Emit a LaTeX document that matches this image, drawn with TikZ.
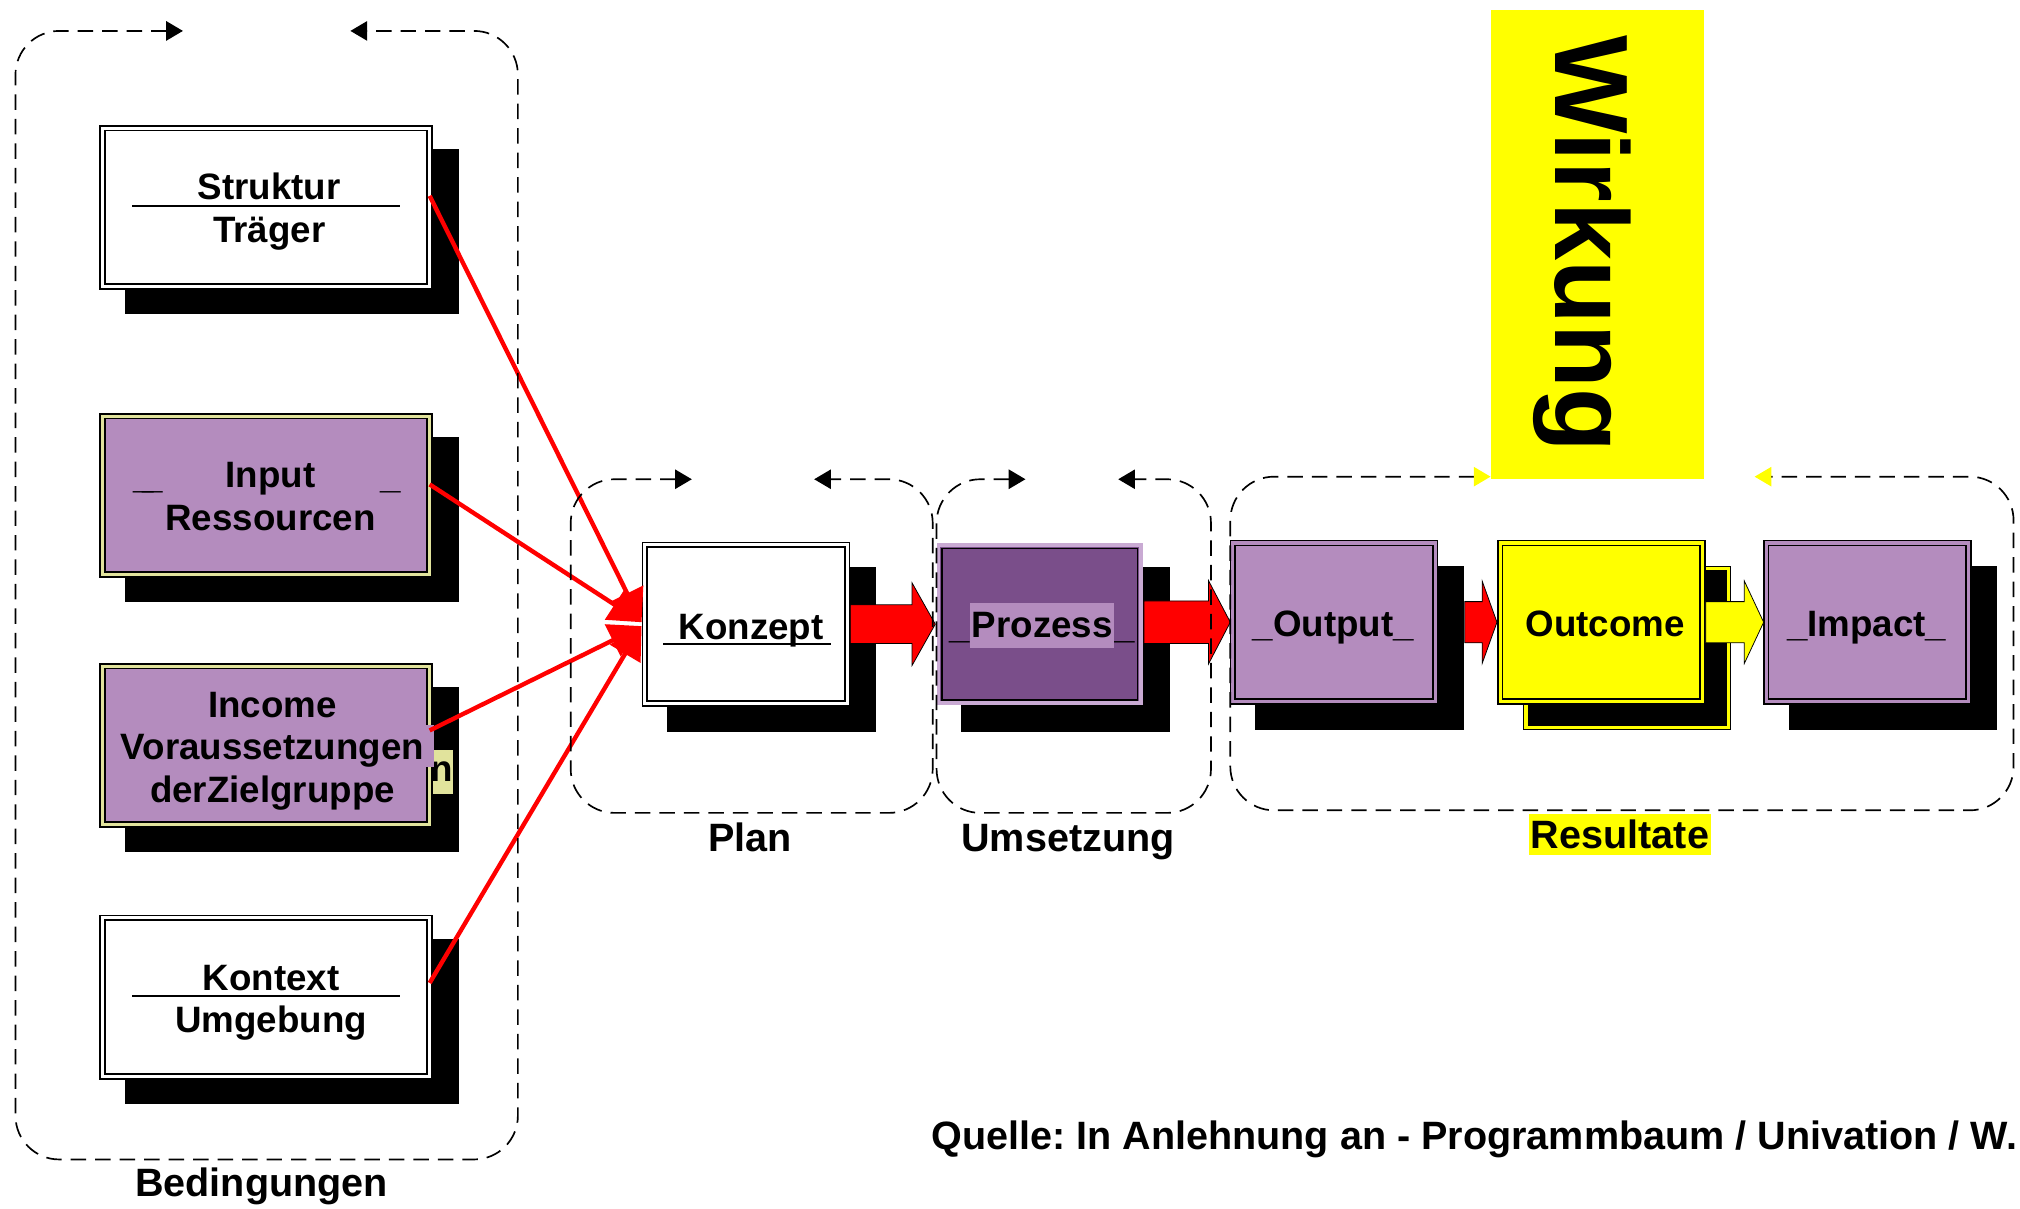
\documentclass[tikz,border=0pt]{standalone}
\usepackage{fontspec}
\setmainfont{Liberation Sans}
\usetikzlibrary{arrows.meta,calc}
\definecolor{lpurple}{HTML}{B48CBE}
\definecolor{dpurple}{HTML}{7A4E8A}
\definecolor{ringpurple}{HTML}{C9AAD3}
\definecolor{paleyellow}{HTML}{E1E39C}
\definecolor{yel}{HTML}{FFFF00}
\newcommand\bxfont{\fontsize{28.5}{33}\selectfont\bfseries}
\newcommand\lbfont{\fontsize{30.7}{34}\selectfont\bfseries}
\newcommand\wkfont{\fontsize{81}{90}\selectfont\bfseries}
\frenchspacing
\begin{document}
\begin{tikzpicture}[x=1pt,y=-1pt,
  every node/.style={inner sep=0pt, outer sep=0pt},
  dbl/.style={draw=black, line width=1.3pt, double=#1, double distance=2.4pt},
  leftsize/.style={minimum width=254pt, minimum height=123pt},
  rowsize/.style={minimum width=157pt, minimum height=123pt},
  leftshadow/.style={fill=black, minimum width=259pt, minimum height=128pt},
  rowshadow/.style={fill=black, minimum width=162pt, minimum height=128pt},
  txt/.style={font=\bxfont, align=center},
  lbl/.style={font=\lbfont},
  frame/.style={line width=1.3pt, dash pattern=on 12pt off 7pt, rounded corners=34pt},
  feed/.style={red, line width=3.4pt, -{Triangle[length=25pt,width=27pt]}},
  blockarrow/.style={fill=#1, draw=black, line width=0.6pt, line join=miter},
  rulel/.style={line width=1.2pt}
]
\useasboundingbox (0,0) rectangle (1568,938);

% Wirkung
\node[fill=yel, minimum width=166pt, minimum height=364pt] (wirkungbox) at (1240,190) {};
\node[font=\wkfont, rotate=-90] (wirkung) at (1228,189) {Wirkung};

% centres
\coordinate (cStr) at (206.5,161);
\coordinate (cInp) at (206.5,384.5);
\coordinate (cInc) at (206.5,578.5);
\coordinate (cKtx) at (206.5,774);
\coordinate (cKon) at (579,484.5);
\coordinate (cPro) at (807,484.5);
\coordinate (cOut) at (1035.5,483);
\coordinate (cOc) at (1243,483);
\coordinate (cImp) at (1449.5,483);

% shadows
\node[leftshadow] (sStr) at ($(cStr)+(20,19)$) {};
\node[leftshadow] (sInp) at ($(cInp)+(20,19)$) {};
\node[leftshadow] (sInc) at ($(cInc)+(20,19)$) {};
\node[leftshadow] (sKtx) at ($(cKtx)+(20,19)$) {};
\node[rowshadow] (sKon) at ($(cKon)+(20,20)$) {};
\node[rowshadow] (sPro) at ($(cPro)+(20,20)$) {};
\node[rowshadow] (sOut) at ($(cOut)+(20,20)$) {};
\node[dbl=yel, fill=black, rowsize] (sOc) at ($(cOc)+(20,20)$) {};
\node[rowshadow] (sImp) at ($(cImp)+(20,20)$) {};

% fragment behind Income box
\node[fill=paleyellow, minimum width=18pt, minimum height=34pt, font=\bxfont] (nfrag) at (343,599) {n};

% boxes
\node[dbl=white, fill=white, leftsize] (struktur) at (cStr) {};
\node[dbl=paleyellow, fill=lpurple, leftsize] (input) at (cInp) {};
\node[dbl=paleyellow, fill=lpurple, leftsize] (income) at (cInc) {};
\node[dbl=white, fill=white, leftsize] (kontext) at (cKtx) {};
\node[dbl=white, fill=white, rowsize] (konzept) at (cKon) {};
\node[fill=dpurple, draw=ringpurple, line width=3pt, rowsize] (prozess) at (cPro) {};
\draw[line width=1.2pt] ($(prozess.south west)+(2.6,-2.6)$) rectangle ($(prozess.north east)+(-2.6,2.6)$);
\node[dbl=lpurple, fill=lpurple, rowsize] (output) at (cOut) {};
\node[dbl=yel, fill=yel, rowsize] (outcome) at (cOc) {};
\node[dbl=lpurple, fill=lpurple, rowsize] (impact) at (cImp) {};

\fill[lpurple] (331,563) rectangle (337,595);

% texts in boxes
\node[txt] (tStr) at (209,164.3) {Struktur\\Träger};
\draw[rulel] ($(struktur.center)+(-104,-1)$) -- ($(struktur.center)+(104,-1)$);
\node[txt] (tInp) at (210,385.6) {Input\\Ressourcen};
\node[font=\bxfont, anchor=base west] (uInpL) at (104,379.2) {\_\kern-9pt\_};
\node[font=\bxfont, anchor=base west] (uInpR) at (295,379.2) {\_};
\node[txt] (tInc) at (211.5,583) {Income\\Voraussetzungen\\derZielgruppe};
\node[txt] (tKtx) at (210.5,778.5) {Kontext\\Umgebung};
\draw[rulel] ($(kontext.center)+(-104,-1)$) -- ($(kontext.center)+(104,-1)$);
\node[font=\bxfont, anchor=base] (tKon) at (583,496.2) {Konzept};
\draw[rulel] ($(konzept.center)+(-64,15.5)$) -- ($(konzept.center)+(66,15.5)$);
\node[font=\bxfont, anchor=base east] (uProL) at (753,495.5) {\_};
\node[font=\bxfont, anchor=base west] (uProR) at (865,495.5) {\_};
\node[font=\bxfont, fill=lpurple, minimum width=112pt, minimum height=35pt] (tPro) at (809,485.5) {Prozess};
\node[font=\bxfont, anchor=base] (tOut) at (1035,494.2) {\_Output\_};
\node[font=\bxfont, anchor=base] (tOc) at (1246,494.2) {Outcome};
\node[font=\bxfont, anchor=base] (tImp) at (1449,494.2) {\_Impact\_};

% red feed lines
\draw[feed] ([yshift=9pt]struktur.east) -- ([yshift=1.5pt,xshift=-2.5pt]konzept.west);
\draw[feed] ([yshift=8.5pt]input.east) -- ([yshift=1.5pt,xshift=-2.5pt]konzept.west);
\draw[feed] ([yshift=11.5pt]income.east) -- ([yshift=-1.5pt,xshift=-2.5pt]konzept.west);
\draw[feed] ([yshift=11pt]kontext.east) -- ([yshift=-1.5pt,xshift=-2.5pt]konzept.west);

% block arrows
\path[blockarrow=red] ($(konzept.east)+(2.5,-15)$) -- ($(prozess.west)+(-20.5,-15)$) -- ($(prozess.west)+(-20.5,-32)$) -- ($(prozess.west)+(-2.5,0)$) -- ($(prozess.west)+(-20.5,32)$) -- ($(prozess.west)+(-20.5,15)$) -- ($(konzept.east)+(2.5,15)$) -- cycle;
\path[blockarrow=red] ($(prozess.east)+(2.5,-18)$) -- ($(output.west)+(-19,-16.5)$) -- ($(output.west)+(-19,-32.5)$) -- ($(output.west)+(-2,0)$) -- ($(output.west)+(-19,32.5)$) -- ($(output.west)+(-19,16.5)$) -- ($(prozess.east)+(2.5,15)$) -- cycle;
\path[blockarrow=red] ($(output.east)+(23,-16)$) -- ($(outcome.west)+(-14,-16)$) -- ($(outcome.west)+(-14,-32)$) -- ($(outcome.west)+(-2.5,0)$) -- ($(outcome.west)+(-14,32)$) -- ($(outcome.west)+(-14,16)$) -- ($(output.east)+(23,16)$) -- cycle;
\path[blockarrow=yel] ($(outcome.east)+(2.5,-16)$) -- ($(impact.west)+(-17,-16)$) -- ($(impact.west)+(-17,-32)$) -- ($(impact.west)+(-2,0)$) -- ($(impact.west)+(-17,32)$) -- ($(impact.west)+(-17,16)$) -- ($(outcome.east)+(2.5,16)$) -- cycle;

% dashed frames
\draw[frame, {Triangle[length=13pt,width=15pt]}-{Triangle[length=13pt,width=15pt]}] (142,24) -- (12,24) -- (12,900) -- (402,900) -- (402,24) -- (272,24);
\draw[frame, {Triangle[length=13pt,width=15pt]}-{Triangle[length=13pt,width=15pt]}] (537,372) -- (443,372) -- (443,631) -- (724,631) -- (724,372) -- (632,372);
\draw[frame, {Triangle[length=13pt,width=15pt]}-{Triangle[length=13pt,width=15pt]}] (796,372) -- (727,372) -- (727,631) -- (940,631) -- (940,372) -- (868,372);
\draw[frame, {Triangle[length=13pt,width=15pt,color=yel]}-{Triangle[length=13pt,width=15pt,color=yel]}] (1157,370) -- (955,370) -- (955,629) -- (1563,629) -- (1563,370) -- (1362,370);

% labels
\node[lbl, anchor=base] (lBed) at (203,929) {Bedingungen};
\node[lbl, anchor=base] (lPlan) at (582,661) {Plan};
\node[lbl, anchor=base] (lUms) at (829,661) {Umsetzung};
\node[lbl, fill=yel, minimum width=141pt, minimum height=32pt] (lRes) at (1257.5,648) {Resultate};
\node[lbl, anchor=base west] (quelle) at (723,892) {Quelle: In Anlehnung an - Programmbaum / Univation / W.};
\end{tikzpicture}
\end{document}
